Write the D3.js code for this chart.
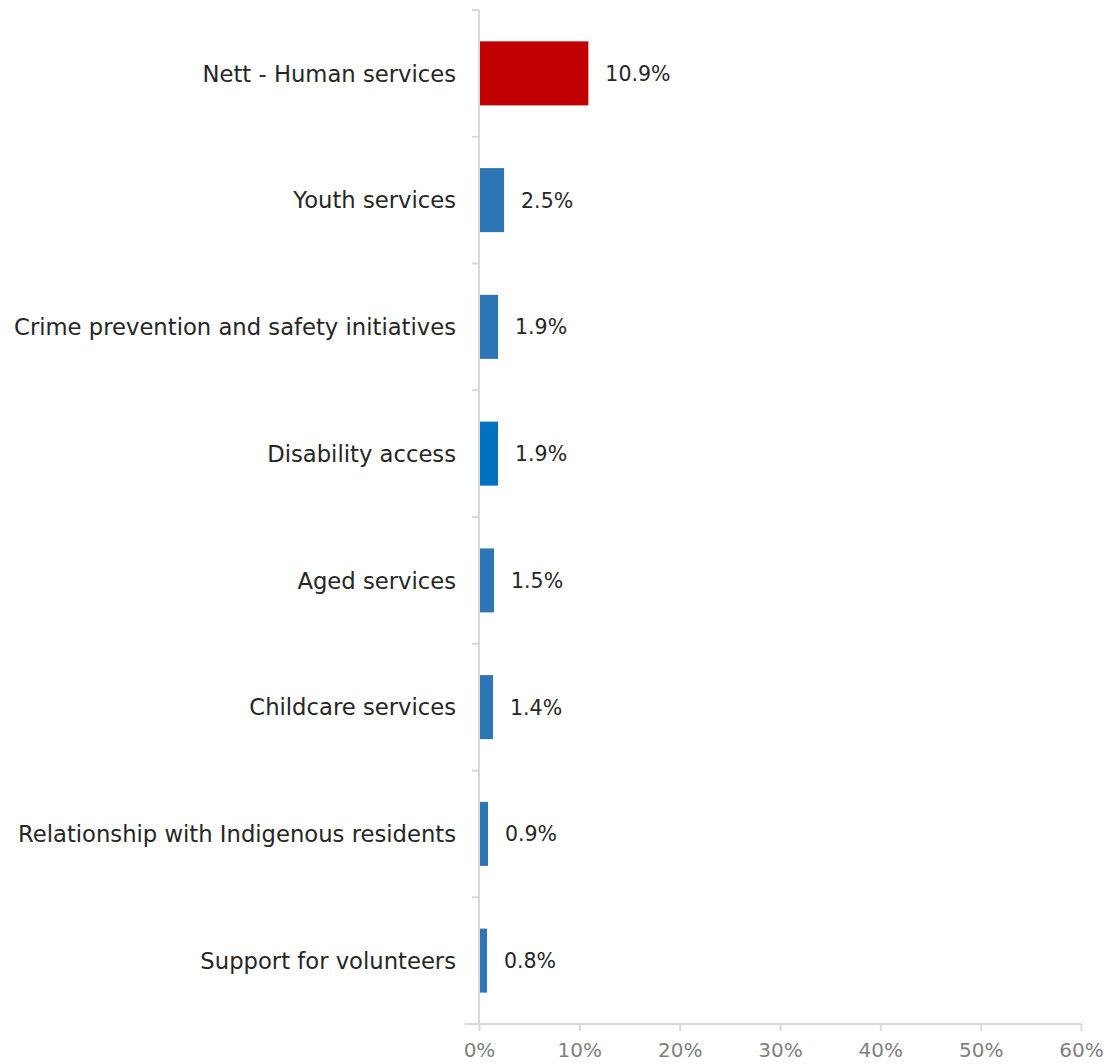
<!DOCTYPE html>
<html>
<head>
<meta charset="utf-8">
<script src="https://cdn.jsdelivr.net/npm/d3@7"></script>
<style>
  html, body { margin: 0; padding: 0; background: #fff; }
  svg { display: block; }
  text { font-family: "DejaVu Sans", sans-serif; }
</style>
</head>
<body>
<svg id="chart" width="1107" height="1064"></svg>
<script>
// Share of responses by service area
const categories = [
  "Nett - Human services",
  "Youth services",
  "Crime prevention and safety initiatives",
  "Disability access",
  "Aged services",
  "Childcare services",
  "Relationship with Indigenous residents",
  "Support for volunteers"
];
const values = [10.9, 2.5, 1.9, 1.9, 1.5, 1.4, 0.9, 0.8];
const barColors = ["#C00000", "#2E75B6", "#2E75B6", "#0070C0", "#2E75B6", "#2E75B6", "#2E75B6", "#2E75B6"];
const xTicks = [0, 10, 20, 30, 40, 50, 60];

const svg = d3.select("#chart");
const plot = { left: 479, right: 1081, top: 10, bottom: 1024 };

const x = d3.scaleLinear().domain([0, 60]).range([plot.left, plot.right]);
const y = d3.scaleBand().domain(categories).range([plot.top, plot.bottom]).paddingInner(0.495).paddingOuter(0.2475);

const axisColor = "#D9D9D9";

// bars
svg.append("g").selectAll("rect")
  .data(categories)
  .join("rect")
  .attr("x", x(0))
  .attr("y", d => y(d))
  .attr("width", (d, i) => x(values[i]) - x(0))
  .attr("height", y.bandwidth())
  .attr("fill", (d, i) => barColors[i]);

// value labels
svg.append("g").selectAll("text")
  .data(categories)
  .join("text")
  .attr("x", (d, i) => x(values[i]) + 17)
  .attr("y", d => y(d) + y.bandwidth() / 2)
  .attr("dy", "0.36em")
  .attr("font-size", 20.5)
  .attr("fill", "#262626")
  .text((d, i) => values[i].toFixed(1) + "%");

// vertical category axis with boundary ticks
const step = (plot.bottom - plot.top) / categories.length;
const yAxis = svg.append("g");
yAxis.append("line")
  .attr("x1", plot.left).attr("x2", plot.left)
  .attr("y1", plot.top).attr("y2", plot.bottom)
  .attr("stroke", axisColor).attr("stroke-width", 2);
yAxis.selectAll("line.tick")
  .data(d3.range(categories.length + 1))
  .join("line")
  .attr("class", "tick")
  .attr("x1", plot.left - 7).attr("x2", plot.left)
  .attr("y1", i => plot.top + i * step).attr("y2", i => plot.top + i * step)
  .attr("stroke", axisColor).attr("stroke-width", 2);

// category labels
svg.append("g").selectAll("text")
  .data(categories)
  .join("text")
  .attr("x", plot.left - 23)
  .attr("y", d => y(d) + y.bandwidth() / 2)
  .attr("dy", "0.36em")
  .attr("text-anchor", "end")
  .attr("font-size", 22.7)
  .attr("fill", "#262626")
  .text(d => d);

// horizontal value axis
const xAxis = svg.append("g")
  .attr("transform", `translate(0,${plot.bottom})`)
  .call(d3.axisBottom(x).tickValues(xTicks).tickSize(7).tickSizeOuter(0).tickPadding(12).tickFormat(d => d + "%"));
xAxis.select(".domain").remove();
xAxis.insert("line", ":first-child")
  .attr("x1", plot.left - 14).attr("x2", plot.right)
  .attr("stroke", axisColor).attr("stroke-width", 2);
xAxis.selectAll(".tick line").attr("stroke", axisColor).attr("stroke-width", 2);
xAxis.selectAll(".tick text")
  .attr("font-size", 20)
  .attr("fill", "#7F7F7F")
  .style("font-family", "'DejaVu Sans', sans-serif");
</script>
</body>
</html>
